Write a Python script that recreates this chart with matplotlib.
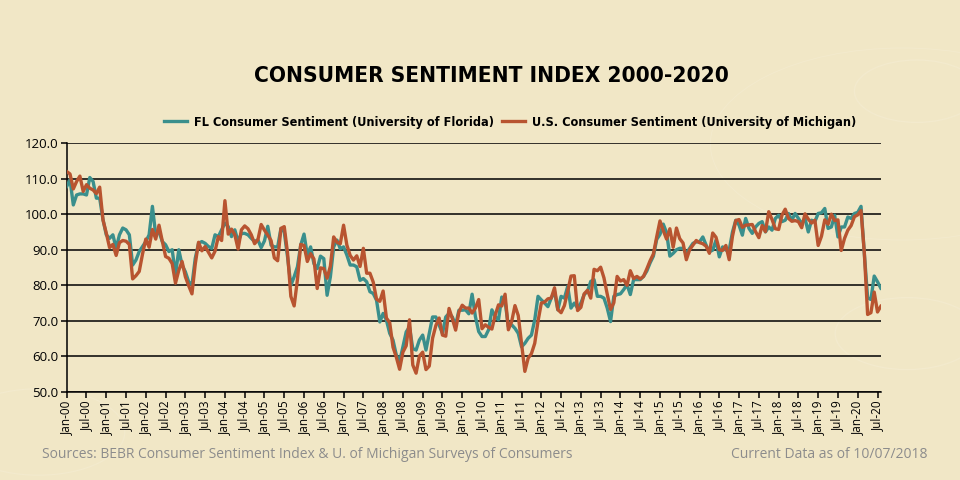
import matplotlib
matplotlib.use("Agg")
import matplotlib.pyplot as plt
from matplotlib import font_manager as fm
import numpy as np
from matplotlib.patches import Circle

# ---------------- data ----------------
fl_2000 = [107.8, 109.7, 102.6, 105.4, 105.7, 105.7, 105.4, 110.3, 109.2, 104.5, 104.5, 98.5]
fl_2001 = [94.2, 93.2, 94.2, 90.4, 94.2, 96.1, 95.6, 94.2, 85.7, 87.1, 89.5, 90.9]
fl_2002 = [92.3, 94.2, 102.2, 94.2, 95.1, 92.3, 91.4, 89.5, 90.0, 83.0, 90.0, 85.7]
fl_2003 = [83.8, 81.0, 80.1, 87.6, 91.8, 92.3, 91.8, 90.9, 90.4, 94.2, 93.7, 95.6]
fl_2004 = [97.5, 96.5, 93.7, 95.6, 92.3, 94.6, 94.6, 94.2, 93.2, 92.3, 92.8, 90.6]
fl_2005 = [92.5, 96.6, 91.3, 90.8, 90.8, 96.0, 95.0, 88.0, 80.0, 82.4, 85.2, 91.3]
fl_2006 = [94.4, 88.5, 90.8, 86.1, 84.7, 88.2, 87.5, 77.2, 82.4, 90.8, 92.7, 90.3]
fl_2007 = [90.8, 88.5, 85.7, 85.7, 85.2, 81.4, 81.9, 81.0, 78.2, 77.7, 75.8, 69.7]
fl_2008 = [72.1, 70.2, 66.5, 64.6, 60.4, 58.5, 62.7, 66.9, 68.3, 62.2, 61.8, 64.6]
fl_2009 = [66.0, 61.8, 66.5, 71.1, 71.1, 68.8, 66.5, 71.1, 72.1, 71.1, 68.8, 73.0]
fl_2010 = [73.0, 73.1, 72.0, 77.5, 71.2, 67.0, 65.6, 65.6, 67.5, 73.1, 71.2, 70.3]
fl_2011 = [76.7, 75.5, 68.4, 68.9, 67.9, 66.5, 62.7, 63.7, 65.1, 66.0, 70.3, 76.9]
fl_2012 = [75.9, 75.0, 74.0, 76.4, 78.3, 73.1, 76.9, 76.4, 79.7, 73.6, 75.0, 73.6]
fl_2013 = [75.0, 77.4, 78.3, 81.1, 81.6, 76.9, 76.9, 76.4, 73.6, 69.8, 76.9, 77.4]
fl_2014 = [77.6, 78.8, 80.2, 77.4, 81.6, 81.6, 81.6, 82.5, 84.0, 86.3, 88.2, 92.9]
fl_2015 = [94.3, 97.2, 94.8, 88.2, 89.0, 90.0, 90.4, 90.4, 89.0, 90.4, 91.8, 92.2]
fl_2016 = [92.2, 93.6, 91.3, 89.4, 89.9, 92.7, 88.0, 90.8, 89.9, 89.9, 95.0, 98.3]
fl_2017 = [96.9, 94.1, 98.8, 96.0, 94.6, 96.4, 97.4, 97.9, 95.0, 96.4, 95.5, 98.8]
fl_2018 = [99.7, 97.9, 98.3, 100.2, 98.3, 100.2, 98.8, 97.4, 98.8, 95.0, 98.3, 97.9]
fl_2019 = [100.2, 100.4, 101.6, 96.0, 96.4, 99.7, 93.6, 96.4, 96.4, 99.2, 98.8, 100.2]
fl_2020 = [100.5, 102.2, 89.0, 76.5, 76.0, 82.6, 81.0, 79.2]

us_2000 = [112.0, 111.3, 107.1, 109.2, 110.7, 106.4, 108.3, 107.3, 106.8, 105.8, 107.6, 98.4]
us_2001 = [94.7, 90.6, 91.5, 88.4, 92.0, 92.6, 92.4, 91.5, 81.8, 82.7, 83.9, 88.8]
us_2002 = [93.0, 90.7, 95.7, 93.0, 96.9, 92.4, 88.1, 87.6, 86.1, 80.6, 84.2, 86.7]
us_2003 = [82.4, 79.9, 77.6, 86.0, 92.1, 89.7, 90.9, 89.3, 87.7, 89.6, 93.7, 92.6]
us_2004 = [103.8, 94.4, 95.8, 94.2, 90.2, 95.6, 96.7, 95.9, 94.2, 91.7, 92.8, 97.1]
us_2005 = [95.5, 94.1, 92.6, 87.7, 86.9, 96.0, 96.5, 89.1, 76.9, 74.2, 81.6, 91.5]
us_2006 = [91.2, 86.7, 88.9, 87.4, 79.1, 84.9, 84.7, 82.0, 85.4, 93.6, 92.1, 91.7]
us_2007 = [96.9, 91.3, 88.4, 87.1, 88.3, 85.3, 90.4, 83.4, 83.4, 80.9, 76.1, 75.5]
us_2008 = [78.4, 70.8, 69.5, 62.6, 59.8, 56.4, 61.2, 63.0, 70.3, 57.6, 55.3, 60.1]
us_2009 = [61.2, 56.3, 57.3, 65.1, 68.7, 70.8, 66.0, 65.7, 73.5, 70.6, 67.4, 72.5]
us_2010 = [74.4, 73.6, 73.6, 72.2, 73.6, 76.0, 67.8, 68.9, 68.2, 67.7, 71.6, 74.5]
us_2011 = [74.2, 77.5, 67.5, 69.8, 74.3, 71.5, 63.7, 55.8, 59.5, 60.8, 63.7, 69.9]
us_2012 = [75.0, 75.3, 76.2, 76.4, 79.3, 73.2, 72.3, 74.3, 78.3, 82.6, 82.7, 72.9]
us_2013 = [73.8, 77.6, 78.6, 76.4, 84.5, 84.1, 85.1, 82.1, 77.5, 73.2, 75.1, 82.5]
us_2014 = [81.2, 81.6, 80.0, 84.1, 81.9, 82.5, 81.8, 82.5, 84.6, 86.9, 88.8, 93.6]
us_2015 = [98.1, 95.4, 93.0, 95.9, 90.7, 96.1, 93.1, 91.9, 87.2, 90.0, 91.3, 92.6]
us_2016 = [92.0, 91.7, 91.0, 89.0, 94.7, 93.5, 90.0, 89.8, 91.2, 87.2, 93.8, 98.2]
us_2017 = [98.5, 96.3, 96.9, 97.0, 97.1, 95.1, 93.4, 96.8, 95.1, 100.7, 98.5, 95.9]
us_2018 = [95.7, 99.7, 101.4, 98.8, 98.0, 98.2, 97.9, 96.2, 100.1, 98.6, 97.5, 98.3]
us_2019 = [91.2, 93.8, 98.4, 97.2, 100.0, 98.2, 98.4, 89.8, 93.2, 95.5, 96.8, 99.3]
us_2020 = [99.8, 101.0, 89.1, 71.8, 72.3, 78.1, 72.5, 74.1]

tick_labels = ["Jan-00", "Jul-00", "Jan-01", "Jul-01", "Jan-02", "Jul-02", "Jan-03", "Jul-03",
               "Jan-04", "Jul-04", "Jan-05", "Jul-05", "Jan-06", "Jul-06", "Jan-07", "Jul-07",
               "Jan-08", "Jul-08", "Jan-09", "Jul-09", "Jan-10", "Jul-10", "Jan-11", "Jul-11",
               "Jan-12", "Jul-12", "Jan-13", "Jul-13", "Jan-14", "Jul-14", "Jan-15", "Jul-15",
               "Jan-16", "Jul-16", "Jan-17", "Jul-17", "Jan-18", "Jul-18", "Jan-19", "Jul-19",
               "Jan-20", "Jul-20"]
y_ticks = [50, 60, 70, 80, 90, 100, 110, 120]

fl = np.concatenate([fl_2000, fl_2001, fl_2002, fl_2003, fl_2004, fl_2005, fl_2006, fl_2007,
                     fl_2008, fl_2009, fl_2010, fl_2011, fl_2012, fl_2013, fl_2014, fl_2015,
                     fl_2016, fl_2017, fl_2018, fl_2019, fl_2020])
us = np.concatenate([us_2000, us_2001, us_2002, us_2003, us_2004, us_2005, us_2006, us_2007,
                     us_2008, us_2009, us_2010, us_2011, us_2012, us_2013, us_2014, us_2015,
                     us_2016, us_2017, us_2018, us_2019, us_2020])
months = np.arange(len(us))


# ---------------- fonts ----------------
def find_condensed_bold():
    prefs = ["LiberationSansNarrow-Bold", "DejaVuSansCondensed-Bold"]
    files = [f.fname for f in fm.fontManager.ttflist]
    for p in prefs:
        for fn in files:
            if fn.split("/")[-1].startswith(p) and "Italic" not in fn and "Oblique" not in fn:
                return fm.FontProperties(fname=fn)
    for fn in files:
        base = fn.split("/")[-1]
        if ("Narrow" in base or "Condensed" in base) and "Bold" in base \
                and "Italic" not in base and "Oblique" not in base:
            return fm.FontProperties(fname=fn)
    return fm.FontProperties(family="DejaVu Sans", weight="bold", stretch="condensed")


COND_BOLD = find_condensed_bold()
REG = ["Open Sans", "DejaVu Sans"]

# ---------------- style ----------------
BG = "#F1E7C6"
TEAL = "#3A8F8C"
RUST = "#B85430"

fig = plt.figure(figsize=(9.6, 4.8), dpi=100, facecolor=BG)

# faint decorative circles (background ornament)
for (cx, cy, r, lw) in [(0.955, 0.81, 0.065, 1.0), (0.945, 0.305, 0.075, 1.0),
                        (0.94, 0.70, 0.20, 0.7), (0.04, 0.10, 0.09, 0.9)]:
    fig.patches.append(Circle((cx, cy), r, transform=fig.transFigure, fill=False,
                              ec="#F3EACD", lw=lw, zorder=-5))

ax = fig.add_axes([0.0695, 0.1833, 0.848, 0.5187])
ax.set_facecolor("none")

ax.plot(months, fl, color=TEAL, lw=2.4, label="FL Consumer Sentiment (University of Florida)",
        solid_joinstyle="round", zorder=3)
ax.plot(months, us, color=RUST, lw=2.4, label="U.S. Consumer Sentiment (University of Michigan)",
        solid_joinstyle="round", zorder=4)

ax.set_xlim(0, 247)
ax.set_ylim(50, 120)
ax.set_yticks(y_ticks)
ax.set_yticklabels([f"{v:.1f}" for v in y_ticks], fontsize=9.5, family=REG)
ax.set_xticks(np.arange(0, 6 * len(tick_labels), 6))
ax.set_xticklabels(tick_labels, rotation=90, fontsize=8.5, family=REG)
ax.grid(axis="y", color="black", lw=1.1, zorder=1)
ax.set_axisbelow(True)
for s in ["top", "right"]:
    ax.spines[s].set_visible(False)
ax.spines["left"].set_linewidth(1.1)
ax.spines["bottom"].set_linewidth(1.1)
ax.tick_params(axis="y", length=4, width=1.1, pad=2)
ax.tick_params(axis="x", length=4, width=1.1, pad=2)

leg_prop = COND_BOLD.copy()
leg_prop.set_size(9.1)
leg = ax.legend(loc="lower center", bbox_to_anchor=(0.545, 1.012), ncol=2, frameon=False,
                prop=leg_prop, handlelength=1.8, handletextpad=0.6, columnspacing=0.6)

title_prop = COND_BOLD.copy()
title_prop.set_size(16.2)
fig.text(0.512, 0.842, "CONSUMER SENTIMENT INDEX 2000-2020", ha="center", va="center",
         fontproperties=title_prop)

fig.text(0.044, 0.053, "Sources: BEBR Consumer Sentiment Index & U. of Michigan Surveys of Consumers",
         ha="left", va="center", fontsize=10, color="#8C8C8C", family=REG)
fig.text(0.966, 0.053, "Current Data as of 10/07/2018", ha="right", va="center",
         fontsize=10, color="#8C8C8C", family=REG)

fig.savefig("out.png", dpi=100, facecolor=BG)
